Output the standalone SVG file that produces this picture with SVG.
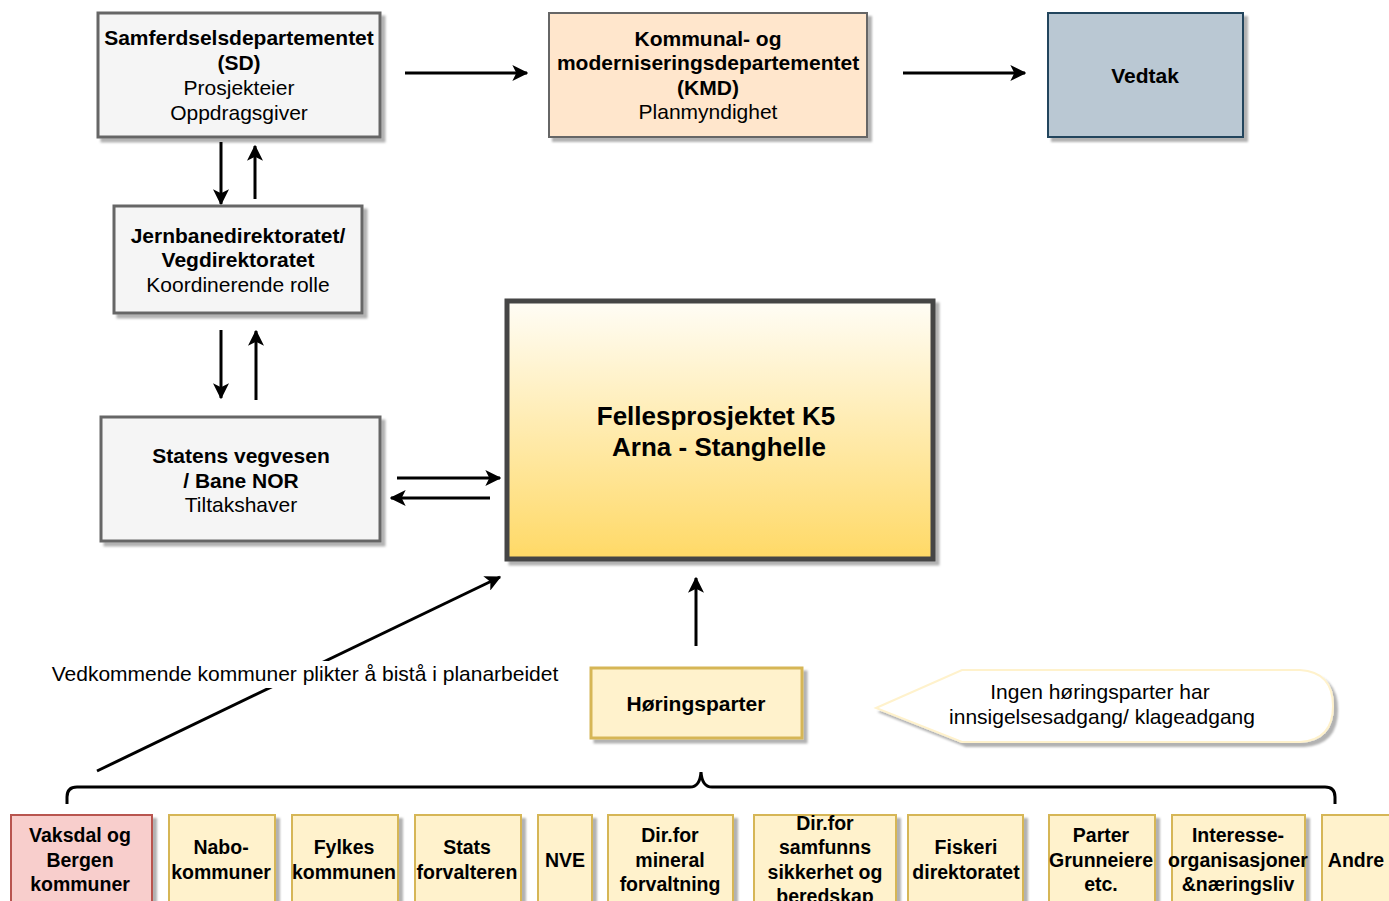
<svg xmlns="http://www.w3.org/2000/svg" width="1389" height="901" viewBox="0 0 1389 901">
<defs>
<filter id="sh" x="-10%" y="-10%" width="130%" height="130%">
<feDropShadow dx="4" dy="4" stdDeviation="1.2" flood-color="#000" flood-opacity="0.3"/>
</filter>
<linearGradient id="gold" x1="0" y1="0" x2="0" y2="1">
<stop offset="0" stop-color="#fffdf6"/>
<stop offset="1" stop-color="#ffd966"/>
</linearGradient>
<marker id="ahs" viewBox="0 0 12 12" refX="11" refY="6" markerWidth="16" markerHeight="16" markerUnits="userSpaceOnUse" orient="auto">
<path d="M0,0 L12,6 L0,12 L3,6 z" fill="#000"/>
</marker>
<style>
text{font-family:"Liberation Sans",Arial,Helvetica,sans-serif;fill:#000;text-anchor:middle}
.t{font-size:21px}
.b{font-weight:bold}
.s{font-size:19.5px;font-weight:bold}
.gray{fill:#f5f5f5;stroke:#666;stroke-width:3}
.yel{fill:#fff2cc;stroke:#d6b656;stroke-width:2}
.con{stroke:#000;stroke-width:3;fill:none}
</style>
</defs>

<g id="connectors">
<line class="con" x1="405" y1="73" x2="527" y2="73" marker-end="url(#ahs)"/>
<line class="con" x1="903" y1="73" x2="1025" y2="73" marker-end="url(#ahs)"/>
<line class="con" x1="221" y1="142" x2="221" y2="204" marker-end="url(#ahs)"/>
<line class="con" x1="255" y1="199" x2="255" y2="146" marker-end="url(#ahs)"/>
<line class="con" x1="221" y1="330" x2="221" y2="398" marker-end="url(#ahs)"/>
<line class="con" x1="256" y1="400" x2="256" y2="331" marker-end="url(#ahs)"/>
<line class="con" x1="397" y1="478" x2="500" y2="478" marker-end="url(#ahs)"/>
<line class="con" x1="490" y1="498" x2="391" y2="498" marker-end="url(#ahs)"/>
<line class="con" x1="696" y1="646" x2="696" y2="578" marker-end="url(#ahs)"/>
<line class="con" x1="97" y1="771" x2="500" y2="577" marker-end="url(#ahs)"/>
<path class="con" d="M67,804 L67,797 Q67,787 77,787 L690,787 Q700,787 701,772 Q702,787 712,787 L1325,787 Q1335,787 1335,797 L1335,804"/>
<rect x="48" y="661" width="514" height="27" fill="#fff"/>
<text class="t" x="305" y="681">Vedkommende kommuner plikter å bistå i planarbeidet</text>
</g>

<g id="sd">
<rect class="gray" x="98" y="13" width="282" height="124" filter="url(#sh)"/>
<text class="t b" x="239" y="45">Samferdselsdepartementet</text>
<text class="t b" x="239" y="70">(SD)</text>
<text class="t" x="239" y="95">Prosjekteier</text>
<text class="t" x="239" y="120">Oppdragsgiver</text>
</g>

<g id="kmd">
<rect x="549" y="13" width="318" height="124" fill="#ffe6cc" stroke="#666" stroke-width="2" filter="url(#sh)"/>
<text class="t b" x="708" y="46">Kommunal- og</text>
<text class="t b" x="708" y="70">moderniseringsdepartementet</text>
<text class="t b" x="708" y="95">(KMD)</text>
<text class="t" x="708" y="119">Planmyndighet</text>
</g>

<g id="vedtak">
<rect x="1048" y="13" width="195" height="124" fill="#bac8d3" stroke="#23445d" stroke-width="2" filter="url(#sh)"/>
<text class="t b" x="1145" y="83">Vedtak</text>
</g>

<g id="jernbane">
<rect class="gray" x="114" y="206" width="248" height="107" filter="url(#sh)"/>
<text class="t b" x="238" y="243">Jernbanedirektoratet/</text>
<text class="t b" x="238" y="267">Vegdirektoratet</text>
<text class="t" x="238" y="292">Koordinerende rolle</text>
</g>

<g id="statens">
<rect class="gray" x="101" y="417" width="279" height="124" filter="url(#sh)"/>
<text class="t b" x="241" y="463">Statens vegvesen</text>
<text class="t b" x="241" y="488">/ Bane NOR</text>
<text class="t" x="241" y="512">Tiltakshaver</text>
</g>

<g id="felles">
<rect x="507" y="301" width="426" height="258" fill="url(#gold)" stroke="#444" stroke-width="5" filter="url(#sh)"/>
<text x="716" y="425" font-size="26" font-weight="bold">Fellesprosjektet K5</text>
<text x="719" y="456" font-size="26" font-weight="bold">Arna - Stanghelle</text>
</g>

<g id="horingsparter">
<rect x="591" y="668" width="211" height="70" fill="#fff2cc" stroke="#d6b656" stroke-width="3" filter="url(#sh)"/>
<text class="t b" x="696" y="711">Høringsparter</text>
</g>

<g id="callout">
<path d="M876,708 L962,670 L1300,670 Q1333,672 1333,706 Q1333,740 1300,742 L962,742 Z" fill="#fff" stroke="#fff2cc" stroke-width="2" filter="url(#sh)"/>
<text class="t" x="1100" y="699">Ingen høringsparter har</text>
<text class="t" x="1102" y="724">innsigelsesadgang/ klageadgang</text>
</g>

<g id="vaksdal">
<rect x="11" y="815" width="141" height="120" fill="#f8cecc" stroke="#b85450" stroke-width="2" filter="url(#sh)"/>
<text class="s" x="80" y="842">Vaksdal og</text>
<text class="s" x="80" y="867">Bergen</text>
<text class="s" x="80" y="891">kommuner</text>
</g>
<g id="nabo">
<rect class="yel" x="169" y="815" width="106" height="120" filter="url(#sh)"/>
<text class="s" x="221" y="854">Nabo-</text>
<text class="s" x="221" y="879">kommuner</text>
</g>
<g id="fylkes">
<rect class="yel" x="292" y="815" width="106" height="120" filter="url(#sh)"/>
<text class="s" x="344" y="854">Fylkes</text>
<text class="s" x="344" y="879">kommunen</text>
</g>
<g id="stats">
<rect class="yel" x="415" y="815" width="106" height="120" filter="url(#sh)"/>
<text class="s" x="467" y="854">Stats</text>
<text class="s" x="467" y="879">forvalteren</text>
</g>
<g id="nve">
<rect class="yel" x="538" y="815" width="54" height="120" filter="url(#sh)"/>
<text class="s" x="565" y="867">NVE</text>
</g>
<g id="mineral">
<rect class="yel" x="608" y="815" width="125" height="120" filter="url(#sh)"/>
<text class="s" x="670" y="842">Dir.for</text>
<text class="s" x="670" y="867">mineral</text>
<text class="s" x="670" y="891">forvaltning</text>
</g>
<g id="samfunn">
<rect class="yel" x="754" y="815" width="142" height="120" filter="url(#sh)"/>
<text class="s" x="825" y="830">Dir.for</text>
<text class="s" x="825" y="854">samfunns</text>
<text class="s" x="825" y="879">sikkerhet og</text>
<text class="s" x="825" y="903">beredskap</text>
</g>
<g id="fiskeri">
<rect class="yel" x="908" y="815" width="115" height="120" filter="url(#sh)"/>
<text class="s" x="966" y="854">Fiskeri</text>
<text class="s" x="966" y="879">direktoratet</text>
</g>
<g id="parter">
<rect class="yel" x="1049" y="815" width="106" height="120" filter="url(#sh)"/>
<text class="s" x="1101" y="842">Parter</text>
<text class="s" x="1101" y="867">Grunneiere</text>
<text class="s" x="1101" y="891">etc.</text>
</g>
<g id="interesse">
<rect class="yel" x="1172" y="815" width="133" height="120" filter="url(#sh)"/>
<text class="s" x="1238" y="842">Interesse-</text>
<text class="s" x="1238" y="867">organisasjoner</text>
<text class="s" x="1238" y="891">&amp;næringsliv</text>
</g>
<g id="andre">
<rect class="yel" x="1322" y="815" width="90" height="120" filter="url(#sh)"/>
<text class="s" x="1356" y="867">Andre</text>
</g>
</svg>
